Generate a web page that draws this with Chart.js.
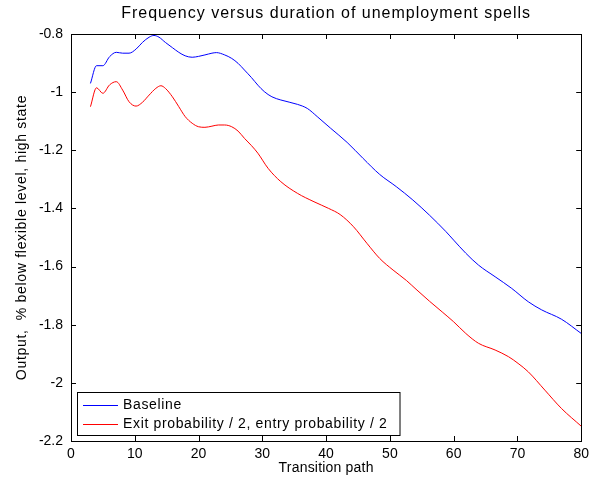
<!DOCTYPE html>
<html>
<head>
<meta charset="utf-8">
<script src="https://cdn.jsdelivr.net/npm/chart.js@4.4.1/dist/chart.umd.min.js"></script>
<style>
  html, body { margin: 0; padding: 0; background: #fff; }
  #wrap { width: 594px; height: 480px; }
</style>
</head>
<body>
<div id="wrap"><canvas id="chart" width="594" height="480"></canvas></div>
<script>
// values
const baselineX = [3.05, 4.0, 5.0, 6.05, 7.1, 8.1, 9.1, 10.2, 11.2, 12.25, 13.0, 13.8, 14.8, 15.9, 16.9, 17.9, 19.0, 20.0, 21.0, 22.1, 22.8, 24.1, 25.2, 26.2, 27.2, 28.3, 29.3, 30.3, 31.5, 32.9, 35.5, 37.05, 38.6, 40.7, 43.3, 45.8, 48.4, 51.0, 53.6, 56.2, 58.8, 60.0, 61.9, 63.9, 66.5, 69.1, 71.7, 73.8, 76.9, 80];
const baselineY = [-0.970, -0.909, -0.909, -0.878, -0.863, -0.866, -0.866, -0.852, -0.829, -0.811, -0.805, -0.811, -0.829, -0.847, -0.863, -0.875, -0.880, -0.877, -0.872, -0.866, -0.864, -0.872, -0.884, -0.901, -0.924, -0.950, -0.976, -0.998, -1.016, -1.027, -1.042, -1.056, -1.084, -1.124, -1.173, -1.228, -1.283, -1.325, -1.371, -1.423, -1.480, -1.509, -1.554, -1.595, -1.635, -1.675, -1.721, -1.749, -1.781, -1.830];

const halfX = [3.05, 4.0, 5.0, 6.05, 7.1, 8.1, 9.1, 10.2, 11.2, 12.25, 13.3, 14.1, 14.8, 15.9, 16.9, 17.9, 19.0, 20.0, 21.0, 22.1, 23.1, 24.1, 25.2, 26.2, 27.2, 28.3, 29.3, 30.9, 32.9, 35.5, 38.1, 40.4, 42.2, 44.3, 46.4, 48.4, 50.5, 52.6, 54.1, 56.2, 58.2, 60.0, 61.9, 63.9, 66.5, 68.6, 70.1, 71.7, 74.3, 76.9, 80];
const halfY = [-1.050, -0.985, -1.004, -0.975, -0.964, -0.993, -1.033, -1.048, -1.035, -1.010, -0.987, -0.978, -0.987, -1.016, -1.050, -1.084, -1.107, -1.119, -1.121, -1.117, -1.113, -1.113, -1.119, -1.134, -1.159, -1.184, -1.210, -1.262, -1.308, -1.348, -1.377, -1.400, -1.421, -1.463, -1.520, -1.572, -1.612, -1.648, -1.678, -1.719, -1.756, -1.790, -1.830, -1.864, -1.887, -1.910, -1.933, -1.962, -2.025, -2.088, -2.149];

const seriesNames = ["Baseline", "Exit probability / 2, entry probability / 2"];
const seriesColors = ["#0000ff", "#ff0000"];

const chartTitle = "Frequency versus duration of unemployment spells";
const xTitle = "Transition path";
const yTitle = "Output,  % below flexible level, high state";

const FONT = "Liberation Sans, Arial, sans-serif";

function toPoints(xs, ys) {
    return xs.map((x, i) => ({ x: x, y: ys[i] }));
}

// box, inward ticks, titles and legend like a matlab figure
const matlabFrame = {
    id: "matlabFrame",
    afterDraw(chart) {
        const ctx = chart.ctx;
        const a = chart.chartArea;
        const xs = chart.scales.x, ys = chart.scales.y;
        ctx.save();
        ctx.strokeStyle = "#000";
        ctx.lineWidth = 1;
        ctx.strokeRect(Math.round(a.left) + 0.5, Math.round(a.top) + 0.5,
            Math.round(a.right - a.left), Math.round(a.bottom - a.top));

        ctx.beginPath();
        xs.ticks.forEach(t => {
            const px = Math.round(xs.getPixelForValue(t.value)) + 0.5;
            ctx.moveTo(px, a.bottom); ctx.lineTo(px, a.bottom - 5);
            ctx.moveTo(px, a.top); ctx.lineTo(px, a.top + 5);
        });
        ys.ticks.forEach(t => {
            const py = Math.round(ys.getPixelForValue(t.value)) + 0.5;
            ctx.moveTo(a.left, py); ctx.lineTo(a.left + 5, py);
            ctx.moveTo(a.right, py); ctx.lineTo(a.right - 5, py);
        });
        ctx.stroke();

        // titles
        ctx.fillStyle = "#000";
        ctx.textAlign = "center";
        ctx.textBaseline = "middle";
        ctx.font = "16px " + FONT;
        ctx.letterSpacing = "1px";
        ctx.fillText(chartTitle, (a.left + a.right) / 2, 14);
        ctx.font = "14px " + FONT;
        ctx.letterSpacing = "0.2px";
        ctx.fillText(xTitle, (a.left + a.right) / 2, 468);
        ctx.save();
        ctx.letterSpacing = "0.7px";
        ctx.translate(22, (a.top + a.bottom) / 2);
        ctx.rotate(-Math.PI / 2);
        ctx.fillText(yTitle, 0, 0);
        ctx.restore();

        // legend
        ctx.font = "14px " + FONT;
        ctx.letterSpacing = "0.65px";
        const textW = Math.max(...seriesNames.map(s => ctx.measureText(s).width));
        const bx = 77, by = 392, bh = 43;
        const bw = 46 + textW + 12;
        ctx.fillStyle = "#fff";
        ctx.fillRect(bx, by, bw, bh);
        ctx.strokeStyle = "#000";
        ctx.strokeRect(bx + 0.5, by + 0.5, bw, bh);
        ctx.textAlign = "left";
        seriesNames.forEach((name, i) => {
            const ry = by + 13 + i * 19;
            ctx.strokeStyle = seriesColors[i];
            ctx.beginPath();
            ctx.moveTo(bx + 6, ry + 0.5);
            ctx.lineTo(bx + 41, ry + 0.5);
            ctx.stroke();
            ctx.fillStyle = "#000";
            ctx.fillText(name, bx + 46, ry);
        });
        ctx.restore();
    }
};

new Chart(document.getElementById("chart"), {
    type: "line",
    data: {
        datasets: [
            {
                label: seriesNames[0],
                data: toPoints(baselineX, baselineY),
                borderColor: seriesColors[0],
                borderWidth: 1,
                pointRadius: 0,
                cubicInterpolationMode: "monotone",
                fill: false
            },
            {
                label: seriesNames[1],
                data: toPoints(halfX, halfY),
                borderColor: seriesColors[1],
                borderWidth: 1,
                pointRadius: 0,
                cubicInterpolationMode: "monotone",
                fill: false
            }
        ]
    },
    options: {
        responsive: false,
        animation: false,
        events: [],
        layout: { padding: { left: 0, right: 7, top: 34, bottom: 0 } },
        plugins: {
            legend: { display: false },
            title: { display: false },
            tooltip: { enabled: false }
        },
        scales: {
            x: {
                type: "linear",
                min: 0,
                max: 80,
                grid: { display: false, drawTicks: false },
                border: { display: false },
                ticks: {
                    stepSize: 10,
                    padding: 5,
                    maxRotation: 0,
                    color: "#000",
                    font: { family: FONT, size: 14 }
                },
                afterFit(scale) { scale.height = 39; }
            },
            y: {
                min: -2.2,
                max: -0.8,
                grid: { display: false, drawTicks: false },
                border: { display: false },
                ticks: {
                    stepSize: 0.2,
                    padding: 8,
                    color: "#000",
                    font: { family: FONT, size: 14 },
                    callback: v => String(parseFloat(v.toFixed(1)))
                },
                afterFit(scale) { scale.width = 71; }
            }
        }
    },
    plugins: [matlabFrame]
});
</script>
</body>
</html>
